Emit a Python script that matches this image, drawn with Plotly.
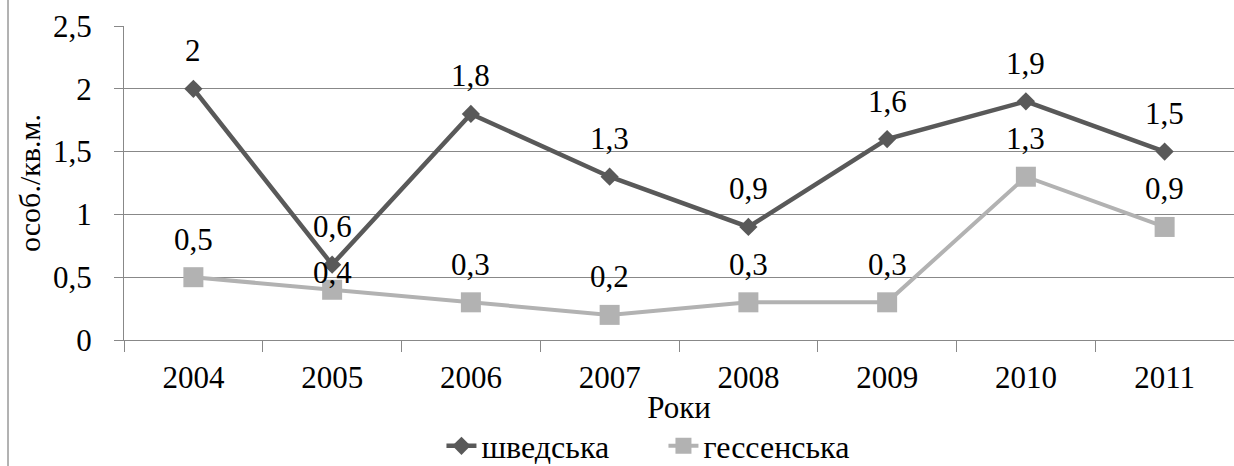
import plotly.graph_objects as go

years = ["2004", "2005", "2006", "2007", "2008", "2009", "2010", "2011"]
swedish = [2.0, 0.6, 1.8, 1.3, 0.9, 1.6, 1.9, 1.5]
hessian = [0.5, 0.4, 0.3, 0.2, 0.3, 0.3, 1.3, 0.9]
y_ticks = [0, 0.5, 1, 1.5, 2, 2.5]
y_tick_text = ["0", "0,5", "1", "1,5", "2", "2,5"]

FONT = "Liberation Serif, Times New Roman, DejaVu Serif, serif"
DARK = "#595959"
LIGHT = "#b2b2b2"
GRID = "#888888"


def fmt(v):
    return f"{v:g}".replace(".", ",")


fig = go.Figure()
fig.add_trace(go.Scatter(
    x=years, y=swedish, name="шведська", mode="lines+markers",
    line=dict(color=DARK, width=4.5),
    marker=dict(symbol="diamond", size=14, color=DARK, line=dict(width=0)),
))
fig.add_trace(go.Scatter(
    x=years, y=hessian, name="гессенська", mode="lines+markers",
    line=dict(color=LIGHT, width=4),
    marker=dict(symbol="square", size=20, color=LIGHT, line=dict(width=0)),
))

# data labels (category axis: annotation x is the category index)
default_shift = 38
special_shift = {("гессенська", "2005"): 17}
annotations = []
for name, vals in (("шведська", swedish), ("гессенська", hessian)):
    for i, (yr, v) in enumerate(zip(years, vals)):
        annotations.append(dict(
            x=i, y=v, xref="x", yref="y", text=fmt(v), showarrow=False,
            yshift=special_shift.get((name, yr), default_shift),
            font=dict(family=FONT, size=31, color="black"),
        ))

fig.update_layout(
    width=1234, height=466,
    margin=dict(l=124, r=0, t=26, b=126, autoexpand=False),
    paper_bgcolor="white", plot_bgcolor="white",
    font=dict(family=FONT, size=31, color="black"),
    annotations=annotations,
    showlegend=True,
    legend=dict(orientation="h", x=0.486, xanchor="center", y=-0.25, yanchor="top",
                font=dict(family=FONT, size=32), entrywidth=177, entrywidthmode="pixels",
                bgcolor="rgba(0,0,0,0)"),
    shapes=[dict(type="line", xref="paper", yref="paper", x0=-0.1045, x1=-0.1045,
                 y0=-0.5, y1=1.2, line=dict(color="#999999", width=1.5))],
)
fig.update_xaxes(
    type="category", range=[-0.5, len(years) - 0.5], tickson="boundaries",
    ticks="outside", ticklen=11, tickangle=0, ticklabelstandoff=10,
    tickcolor=GRID, showgrid=False, showline=True, linecolor=GRID, linewidth=1,
    tickfont=dict(family=FONT, size=31),
    title=dict(text="Роки", font=dict(family=FONT, size=31), standoff=2),
    automargin=False,
)
fig.update_yaxes(
    range=[0, 2.5], tickvals=y_ticks, ticktext=y_tick_text,
    ticks="outside", ticklen=9, tickcolor=GRID,
    showgrid=True, gridcolor=GRID, gridwidth=1,
    showline=True, linecolor=GRID, linewidth=1, zeroline=False,
    tickfont=dict(family=FONT, size=31), ticklabelstandoff=16,
    title=dict(text="особ./кв.м.", font=dict(family=FONT, size=30), standoff=3),
    automargin=False,
)

fig.write_html("out.html", config={"displayModeBar": False},
               post_script="document.body.style.margin='0';")
